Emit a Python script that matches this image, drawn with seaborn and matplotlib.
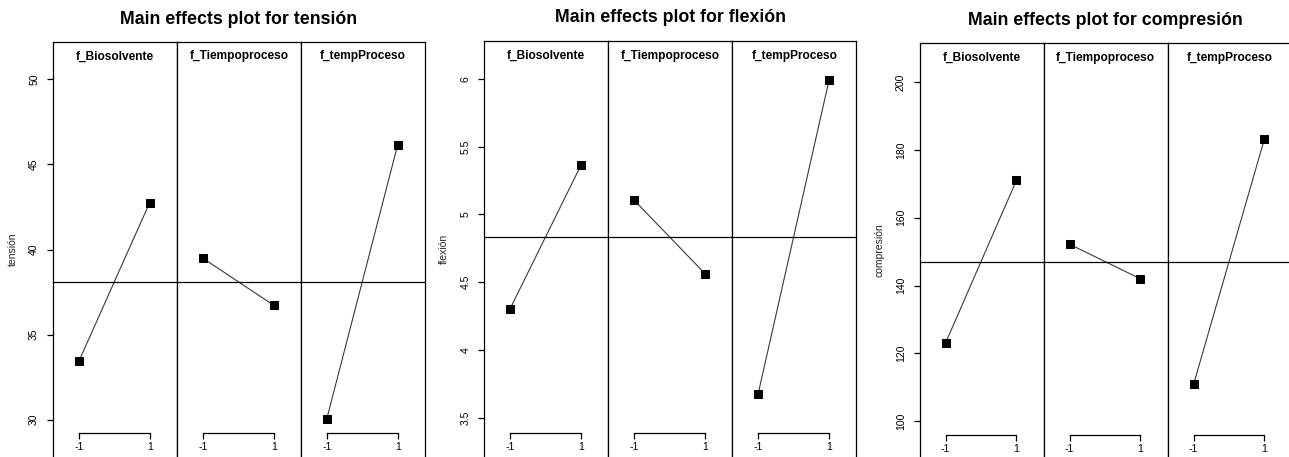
import numpy as np
import pandas as pd
import matplotlib
matplotlib.use("Agg")
import matplotlib.pyplot as plt
import seaborn as sns

# factors and their two coded levels
factors = ["f_Biosolvente", "f_Tiempoproceso", "f_tempProceso"]
levels = [-1, 1]
level_labels = ["-1", "1"]

# mean response at level -1 / level 1 for each factor
tension_low = [33.43, 39.49, 30.06]
tension_high = [42.76, 36.72, 46.16]
flexion_low = [4.305, 5.105, 3.677]
flexion_high = [5.364, 4.563, 5.99]
compresion_low = [123.1, 152.2, 110.9]
compresion_high = [171.0, 142.0, 183.2]

tension_ticks = [30, 35, 40, 45, 50]
flexion_ticks = [3.5, 4, 4.5, 5, 5.5, 6]
flexion_ticklabels = ["3.5", "4", "4.5", "5", "5.5", "6"]
compresion_ticks = [100, 120, 140, 160, 180, 200]

sns.set_style("white")
plt.rcParams["font.family"] = ["Liberation Sans", "DejaVu Sans"]
plt.rcParams["text.color"] = "black"
plt.rcParams["xtick.bottom"] = True
plt.rcParams["ytick.left"] = True

W, H = 1289, 457
fig = plt.figure(figsize=(W / 100, H / 100), dpi=100)

# name, low, high, left px, top px, ylim, ticks, ticklabels, bracket y px, title y px
charts = [
    ("tensión", tension_low, tension_high, 53, 42, (27.8, 52.2),
     tension_ticks, [str(t) for t in tension_ticks], 433, 19),
    ("flexión", flexion_low, flexion_high, 484.3, 41, (3.21, 6.28),
     flexion_ticks, flexion_ticklabels, 432.7, 17.5),
    ("compresión", compresion_low, compresion_high, 919.7, 43.3, (89.5, 211.4),
     compresion_ticks, [str(t) for t in compresion_ticks], 435, 20.5),
]
panel_w = 124

for name, low, high, left, top, ylim, yt, ytl, brk, ty in charts:
    grand_mean = np.mean(low + high)
    strip_y = 1 - 14.5 / (H - top)
    for i, f in enumerate(factors):
        ax = fig.add_axes([(left + i * panel_w) / W, 0, panel_w / W, (H - top) / H])
        df = pd.DataFrame({"level": levels, "value": [low[i], high[i]]})
        sns.lineplot(data=df, x="level", y="value", ax=ax, color="#3a3a3a",
                     lw=0.8, marker="s", markersize=6.3,
                     markerfacecolor="black", markeredgecolor="black")
        ax.axhline(grand_mean, color="black", lw=0.9)
        ax.set_xlim(-1.73, 1.77)
        ax.set_ylim(ylim)
        ax.set_xlabel("")
        ax.set_ylabel("")
        for s in ax.spines.values():
            s.set_color("black")
            s.set_linewidth(0.9)
        # R style x axis bracket inside the panel
        ax.spines["bottom"].set_position(("axes", (H - brk) / (H - top)))
        ax.spines["bottom"].set_bounds(-1, 1)
        ax.set_xticks(levels)
        ax.set_xticklabels(level_labels)
        ax.tick_params(axis="x", bottom=True, direction="out", length=4.5,
                       width=0.9, labelsize=7.5, pad=2, colors="black")
        ax.text(0.5, strip_y, f, transform=ax.transAxes, ha="center",
                va="center", fontsize=8.6, fontweight="bold")
        if i == 0:
            ax.set_yticks(yt)
            ax.set_yticklabels(ytl, rotation=90, va="center")
            ax.tick_params(axis="y", left=True, direction="out", length=4,
                           width=0.9, labelsize=7.5, pad=6, colors="black")
            ax.set_ylabel(name, fontsize=7.5)
            ax.yaxis.set_label_coords(-0.285, 0.5)
        else:
            ax.set_yticks([])
    cx = left + 1.5 * panel_w
    fig.text(cx / W, 1 - ty / H, "Main effects plot for " + name,
             ha="center", va="center", fontsize=12.8, fontweight="bold")

fig.savefig("out.png", dpi=100)
